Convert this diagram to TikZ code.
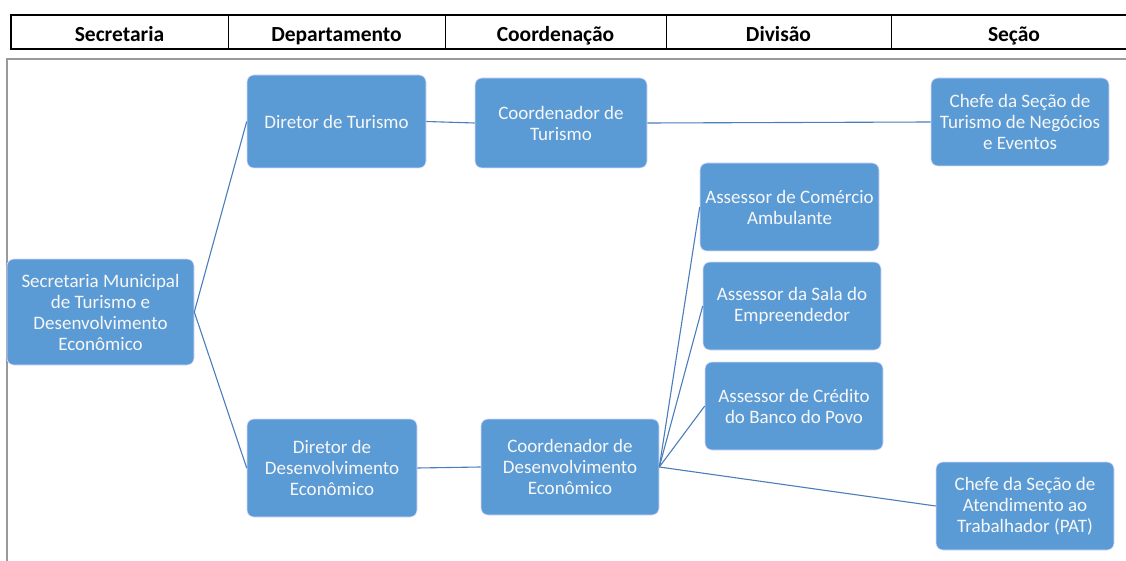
\documentclass[tikz,border=0pt]{standalone}
\usepackage{fontspec}
\setmainfont{Carlito}
\begin{document}
\begin{tikzpicture}[x=1pt,y=-1pt,
  bx/.style={draw=white!85!blue,line width=0.6pt,fill=boxblue,rounded corners=7pt,
    text=white!94!gray,font=\fontsize{19}{21}\selectfont,align=center,inner sep=0pt},
  link/.style={draw=lineblue,line width=1.1pt},
  hdr/.style={font=\fontsize{21.5}{24}\selectfont\bfseries,text=black,anchor=base}]
\definecolor{boxblue}{HTML}{5B9BD5}
\definecolor{lineblue}{HTML}{4A7EBB}
\useasboundingbox (0,0) rectangle (1126,561);
% header table
\draw[black,line width=1.3pt] (1130,15) -- (11,15) -- (11,49) -- (1130,49);
\foreach \x in {228,445,666,891} \draw[black,line width=1pt] (\x,15) -- (\x,49);
\node[hdr] (h1) at (119.5,42) {Secretaria};
\node[hdr] (h2) at (336.5,42) {Departamento};
\node[hdr] (h3) at (555.5,42) {Coordenação};
\node[hdr] (h4) at (778.5,42) {Divisão};
\node[hdr] (h5) at (1014,42) {Seção};
% frame
\draw[gray!80,line width=1.2pt] (7,575) -- (7,59) -- (1140,59);
% boxes
\node[bx,minimum width=187pt,minimum height=106pt] (sec) at (100.5,312) {Secretaria Municipal\\de Turismo e\\Desenvolvimento\\Econômico};
\node[bx,minimum width=179pt,minimum height=93pt] (dt) at (336.5,121.5) {Diretor de Turismo};
\node[bx,minimum width=172pt,minimum height=90pt] (ct) at (561,123) {Coordenador de\\Turismo};
\node[bx,minimum width=178pt,minimum height=88pt] (cst) at (1020,122) {Chefe da Seção de\\Turismo de Negócios\\e Eventos};
\node[bx,minimum width=179pt,minimum height=88pt] (ac) at (789.5,207) {Assessor de Comércio\\Ambulante};
\node[bx,minimum width=178pt,minimum height=88pt] (as) at (792,306) {Assessor da Sala do\\Empreendedor};
\node[bx,minimum width=178pt,minimum height=88pt] (acr) at (794,406) {Assessor de Crédito\\do Banco do Povo};
\node[bx,minimum width=170pt,minimum height=98pt] (dd) at (332,468) {Diretor de\\Desenvolvimento\\Econômico};
\node[bx,minimum width=178pt,minimum height=96pt] (cd) at (570,467) {Coordenador de\\Desenvolvimento\\Econômico};
\node[bx,minimum width=178pt,minimum height=88pt] (pat) at (1025,506) {Chefe da Seção de\\Atendimento ao\\Trabalhador (PAT)};
% connectors
\draw[link] (sec.east) -- (dt.west);
\draw[link] (sec.east) -- (dd.west);
\draw[link] (dt.east) -- (ct.west);
\draw[link] (ct.east) -- (cst.west);
\draw[link] (dd.east) -- (cd.west);
\draw[link] (cd.east) -- (ac.west);
\draw[link] (cd.east) -- (as.west);
\draw[link] (cd.east) -- (acr.west);
\draw[link] (cd.east) -- (pat.west);
\end{tikzpicture}
\end{document}
